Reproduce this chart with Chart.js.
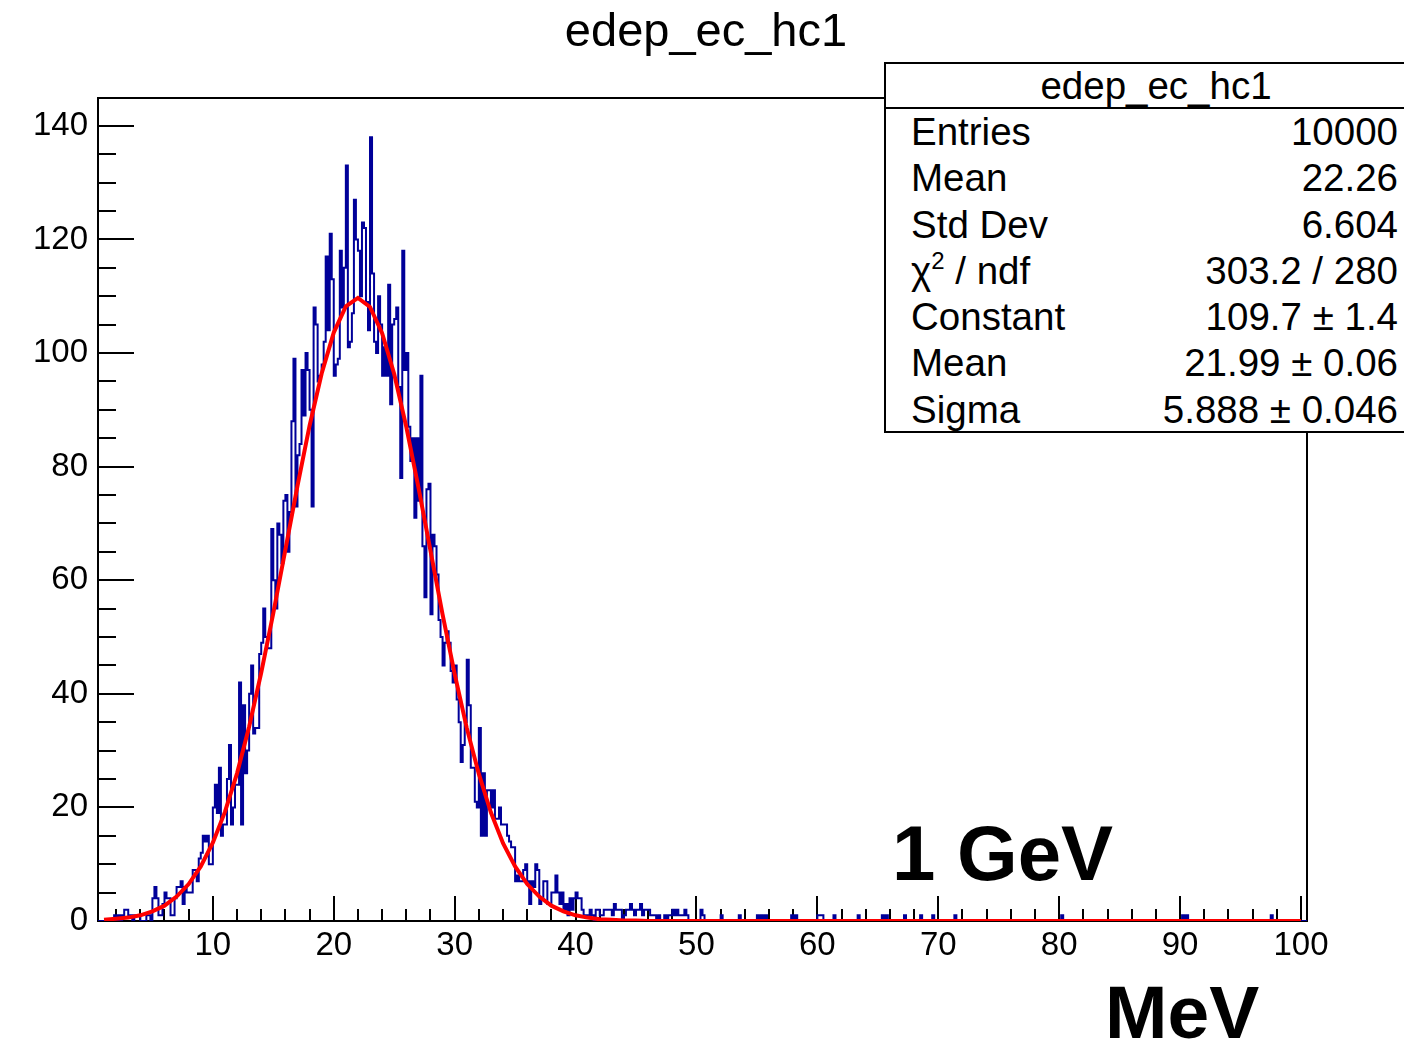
<!DOCTYPE html>
<html>
<head>
<meta charset="utf-8">
<title>edep_ec_hc1</title>
<script src="https://cdn.jsdelivr.net/npm/chart.js@4.4.1/dist/chart.umd.min.js"></script>
<style>
  html, body { margin: 0; padding: 0; background: #fff; }
  #wrap { position: relative; width: 1404px; height: 1043px; overflow: hidden;
          font-family: "Liberation Sans", Arial, Helvetica, sans-serif; color: #000; }
  #c { position: absolute; left: 0; top: 0; }
  #title { position: absolute; left: 0; width: 1412px; top: 6px; text-align: center;
           font-size: 47px; line-height: 1; white-space: nowrap; }
  #stats { position: absolute; left: 884px; top: 62px; width: 544px; height: 371px;
           box-sizing: border-box; border: 2px solid #000; background: #fff; font-size: 38.5px; }
  #stats .head { height: 43px; line-height: 43px; text-align: center; border-bottom: 2px solid #000; }
  #stats .row { height: 46.3px; line-height: 46.3px; display: flex; justify-content: space-between;
                padding: 0 28px 0 25px; white-space: nowrap; }
  #stats sup { font-size: 24px; line-height: 0; vertical-align: 15px; }
  .big { position: absolute; font-weight: bold; line-height: 1; white-space: nowrap; }
</style>
</head>
<body>
<div id="wrap">
  <canvas id="c" width="1404" height="1043"></canvas>
  <div id="title">edep_ec_hc1</div>
  <div id="stats"></div>
  <div class="big" style="left:892px; top:814px; font-size:78px;">1 GeV</div>
  <div class="big" style="left:1105px; top:975px; font-size:75px;">MeV</div>
</div>
<script>
// histogram edep_ec_hc1: 600 bins from 0.5 to 100.5 MeV
const histMin = 0.5;
const histMax = 100.5;
const counts = [
  0,0,0,0,0,0,0,0,1,0,1,0,1,2,2,1,1,0,1,1,
  1,0,0,0,1,1,0,4,6,4,1,1,3,5,4,4,1,1,4,6,
  6,7,3,6,5,5,5,9,9,7,11,12,15,14,15,10,10,20,24,19,
  27,15,17,17,25,31,17,20,24,24,42,17,38,26,30,40,45,33,34,34,
  47,49,55,50,48,48,69,60,55,70,68,63,74,75,65,72,88,99,73,82,
  84,97,89,100,97,90,73,108,105,95,96,98,102,117,104,121,113,96,98,99,
  118,108,115,133,101,102,107,127,120,118,110,123,122,109,104,138,114,102,100,110,
  105,96,101,96,112,91,105,106,108,94,78,118,97,100,87,81,85,71,85,74,
  96,66,57,76,77,54,68,66,61,53,50,45,49,51,49,44,42,45,39,35,
  28,31,35,46,38,27,27,21,20,34,15,26,15,23,23,20,23,18,18,20,
  17,17,17,15,14,13,13,7,8,7,7,9,10,7,3,7,6,10,9,3,
  4,7,7,3,3,5,5,8,5,3,5,2,3,1,4,2,4,5,4,4,
  2,1,1,1,2,1,0,2,2,1,1,2,2,2,2,1,3,2,2,2,
  0,1,2,2,3,2,1,2,2,3,1,2,2,2,1,1,1,0,1,0,
  0,1,0,1,1,2,1,2,1,1,1,2,1,0,0,0,0,0,0,2,
  1,0,0,0,0,0,0,0,0,1,0,0,0,0,0,0,0,0,1,0,
  0,0,0,0,0,0,0,1,0,1,0,1,0,0,0,0,0,0,0,0,
  0,0,0,0,1,0,1,0,0,0,0,0,0,0,0,0,0,1,1,1,
  0,0,0,0,0,1,0,0,0,0,0,0,0,0,0,0,0,1,0,0,
  0,0,0,0,0,0,0,0,0,1,0,1,0,0,0,0,0,0,0,0,
  1,0,0,0,0,0,0,0,1,0,0,0,0,0,1,0,0,0,0,0,
  0,0,0,0,0,1,0,0,0,0,0,0,0,0,0,0,0,0,0,0,
  0,0,0,0,0,0,0,0,0,0,0,0,0,0,0,0,0,0,0,0,
  0,0,0,0,0,0,0,0,0,0,0,0,0,0,0,0,0,0,1,0,
  0,0,0,0,0,0,0,0,0,0,0,0,0,0,0,0,0,0,0,0,
  0,0,0,0,0,0,0,0,0,0,0,0,0,0,0,0,0,0,0,0,
  0,0,0,0,0,0,0,0,0,0,0,0,0,0,0,0,0,0,1,0,
  1,0,0,0,0,0,0,0,0,0,0,0,0,0,0,0,0,0,0,0,
  0,0,0,0,0,0,0,0,0,0,0,0,0,0,0,0,0,0,0,0,
  0,0,1,0,0,0,0,0,0,0,0,0,0,0,0,0,0,0,0,0
];

// red fit curve, read at x = 1, 2, ... 100 MeV
const fitStart = 1;
const fitStep = 1;
const fitValues = [
  0.2,0.4,0.6,1.0,1.7,2.7,4.3,6.5,9.6,13.8,
  19.2,26.0,34.2,43.7,54.2,65.4,76.6,87.2,96.4,103.6,
  108.2,109.7,108.1,103.5,96.3,87.0,76.4,65.2,54.0,43.5,
  34.0,25.9,19.1,13.7,9.6,6.5,4.3,2.7,1.7,1.0,
  0.6,0.3,0.2,0.1,0.1,0,0,0,0,0,
  0,0,0,0,0,0,0,0,0,0,
  0,0,0,0,0,0,0,0,0,0,
  0,0,0,0,0,0,0,0,0,0,
  0,0,0,0,0,0,0,0,0,0,
  0,0,0,0,0,0,0,0,0,0
];

const xLabelTicks = [10, 20, 30, 40, 50, 60, 70, 80, 90, 100];
const yLabelTicks = [0, 20, 40, 60, 80, 100, 120, 140];
const yMax = 144.9;

const statLabels = ["Entries", "Mean", "Std Dev", "χ<sup>2</sup> / ndf", "Constant", "Mean", "Sigma"];
const statValues = ["10000", "22.26", "6.604", "303.2 / 280", "109.7 ± 1.4", "21.99 ± 0.06", "5.888 ± 0.046"];

// stats box
const stats = document.getElementById("stats");
stats.innerHTML = '<div class="head">edep_ec_hc1</div>' +
  statLabels.map((l, i) => '<div class="row"><span>' + l + '</span><span>' + statValues[i] + '</span></div>').join("");

const binWidth = (histMax - histMin) / counts.length;
const histPoints = counts.map((c, i) => ({ x: histMin + i * binWidth, y: c }));
histPoints.push({ x: histMax, y: counts[counts.length - 1] });

const fitPoints = fitValues.map((v, i) => ({ x: fitStart + i * fitStep, y: v }));

// ROOT style frame with ticks pointing inwards
const frameAndTicks = {
  id: "frameAndTicks",
  beforeDatasetsDraw(chart) {
    const { ctx, chartArea: a, scales: { x, y } } = chart;
    ctx.save();
    ctx.strokeStyle = "#000";
    ctx.lineWidth = 2;
    ctx.strokeRect(a.left, a.top, a.right - a.left, a.bottom - a.top);
    ctx.beginPath();
    for (let v = 2; v <= 100; v += 2) {
      const px = Math.round(x.getPixelForValue(v));
      const len = v % 10 === 0 ? 25 : 12;
      ctx.moveTo(px, a.bottom);
      ctx.lineTo(px, a.bottom - len);
    }
    for (let v = 0; v <= 140; v += 5) {
      const py = Math.round(y.getPixelForValue(v));
      const len = v % 20 === 0 ? 36 : 18;
      ctx.moveTo(a.left, py);
      ctx.lineTo(a.left + len, py);
    }
    ctx.stroke();
    ctx.restore();
  }
};

Chart.defaults.font.family = '"Liberation Sans", Arial, Helvetica, sans-serif';
Chart.defaults.color = "#000";

new Chart(document.getElementById("c"), {
  type: "line",
  data: {
    datasets: [
      {
        label: "gaus",
        data: fitPoints,
        borderColor: "#ff0000",
        borderWidth: 4,
        pointRadius: 0,
        tension: 0,
        fill: false
      },
      {
        label: "edep_ec_hc1",
        data: histPoints,
        borderColor: "#000099",
        borderWidth: 2,
        pointRadius: 0,
        stepped: true,
        fill: false
      }
    ]
  },
  options: {
    responsive: false,
    animation: false,
    devicePixelRatio: 1,
    layout: { padding: { left: 0, right: 97, top: 98, bottom: 0 } },
    plugins: {
      legend: { display: false },
      tooltip: { enabled: false },
      title: { display: false }
    },
    scales: {
      x: {
        type: "linear",
        min: histMin,
        max: histMax,
        grid: { display: false, drawTicks: false },
        border: { display: false },
        ticks: { font: { size: 33 }, padding: 5, maxRotation: 0, autoSkip: false },
        afterBuildTicks: s => { s.ticks = xLabelTicks.map(v => ({ value: v })); },
        afterFit: s => { s.height = 122; }
      },
      y: {
        type: "linear",
        min: 0,
        max: yMax,
        grid: { display: false, drawTicks: false },
        border: { display: false },
        ticks: { font: { size: 33 }, padding: 10, autoSkip: false },
        afterBuildTicks: s => { s.ticks = yLabelTicks.map(v => ({ value: v })); },
        afterFit: s => { s.width = 98; }
      }
    }
  },
  plugins: [frameAndTicks]
});
</script>
</body>
</html>
